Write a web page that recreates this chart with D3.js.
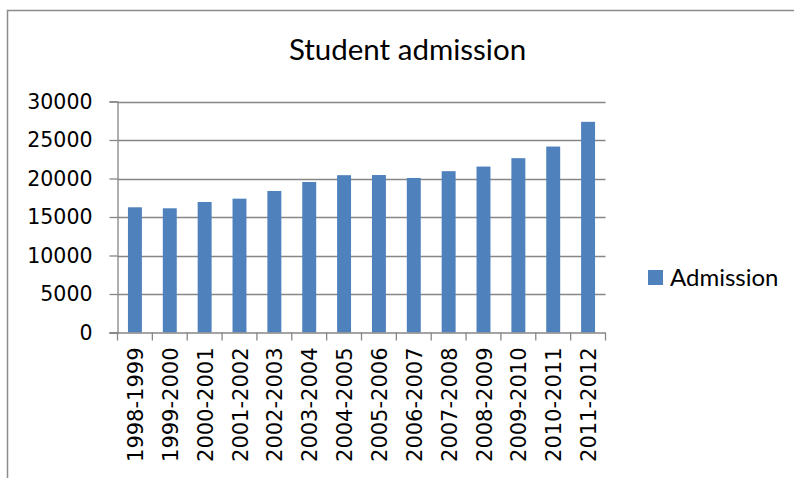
<!DOCTYPE html>
<html>
<head>
<meta charset="utf-8">
<script src="https://cdn.jsdelivr.net/npm/d3@7"></script>
<style>
  html, body { margin: 0; padding: 0; background: #fff; }
  svg { display: block; }
</style>
</head>
<body>
<svg id="chart" width="794" height="478"></svg>
<script>
// Yearly student admissions
const years = ["1998-1999","1999-2000","2000-2001","2001-2002","2002-2003","2003-2004","2004-2005",
               "2005-2006","2006-2007","2007-2008","2008-2009","2009-2010","2010-2011","2011-2012"];
const admission = [16260, 16130, 16950, 17380, 18380, 19550, 20430,
                   20450, 20070, 20950, 21550, 22640, 24150, 27360];
const yTicks = [0, 5000, 10000, 15000, 20000, 25000, 30000];
const seriesName = "Admission";
const chartTitle = "Student admission";

const svg = d3.select("#chart");
const axisFont = "'DejaVu Sans', sans-serif";
const titleFont = "Lato, 'Open Sans', sans-serif";
const barColor = "#4F81BD";
const lineColor = "#868686";

// Outer chart frame (top and left edges)
svg.append("path")
  .attr("d", "M7.5,478 V10.5 H794")
  .attr("fill", "none")
  .attr("stroke", "#8c8c8c")
  .attr("stroke-width", 1.5);

const plot = { left: 117.5, right: 605.5, top: 101.5, bottom: 332.5 };

const x = d3.scaleBand()
  .domain(years)
  .range([plot.left, plot.right])
  .paddingInner(0.6)
  .paddingOuter(0.3);

const xOuter = d3.scaleBand().domain(years).range([plot.left, plot.right]);

const y = d3.scaleLinear()
  .domain([0, 30000])
  .range([plot.bottom, plot.top]);

// Horizontal gridlines
svg.append("g")
  .selectAll("line")
  .data(yTicks.filter(d => d > 0))
  .join("line")
  .attr("x1", plot.left)
  .attr("x2", plot.right)
  .attr("y1", d => Math.round(y(d)) + 0.5)
  .attr("y2", d => Math.round(y(d)) + 0.5)
  .attr("stroke", lineColor)
  .attr("stroke-width", 1.3);

// Bars
svg.append("g")
  .selectAll("rect")
  .data(admission)
  .join("rect")
  .attr("x", (d, i) => x(years[i]))
  .attr("width", x.bandwidth())
  .attr("y", d => y(d))
  .attr("height", d => y(0) - y(d))
  .attr("fill", barColor);

// Y axis
const yAxis = svg.append("g")
  .attr("transform", `translate(${plot.left},0)`)
  .call(d3.axisLeft(y).tickValues(yTicks).tickSize(8).tickPadding(17).tickFormat(d3.format("d")));
yAxis.select(".domain").attr("stroke", lineColor).attr("stroke-width", 1.3);
yAxis.selectAll(".tick line").attr("stroke", lineColor).attr("stroke-width", 1.3);
yAxis.selectAll(".tick text")
  .attr("font-family", axisFont)
  .attr("font-size", 20.5)
  .attr("fill", "#000");

// X axis with ticks at category boundaries
const xAxisG = svg.append("g").attr("transform", `translate(0,${plot.bottom})`);
xAxisG.append("line")
  .attr("x1", plot.left - 8).attr("x2", plot.right)
  .attr("y1", 0.5).attr("y2", 0.5)
  .attr("stroke", lineColor).attr("stroke-width", 1.3);
const boundaries = years.map(d => xOuter(d)).concat([plot.right]);
xAxisG.selectAll("line.tick")
  .data(boundaries)
  .join("line")
  .attr("class", "tick")
  .attr("x1", d => d).attr("x2", d => d)
  .attr("y1", 0).attr("y2", 8)
  .attr("stroke", lineColor).attr("stroke-width", 1.3);
xAxisG.selectAll("text")
  .data(years)
  .join("text")
  .attr("transform", d => `translate(${xOuter(d) + xOuter.bandwidth() / 2 + 8},15) rotate(-90)`)
  .attr("text-anchor", "end")
  .attr("font-family", axisFont)
  .attr("font-size", 21)
  .attr("fill", "#000")
  .text(d => d);

// Title
svg.append("text")
  .attr("x", 407.5)
  .attr("y", 60)
  .attr("text-anchor", "middle")
  .attr("font-family", titleFont)
  .attr("font-size", 29.5)
  .attr("fill", "#000")
  .text(chartTitle);

// Legend
const legend = svg.append("g").attr("transform", "translate(648,270)");
legend.append("rect")
  .attr("width", 15).attr("height", 15)
  .attr("fill", barColor);
legend.append("text")
  .attr("x", 22)
  .attr("y", 15.5)
  .attr("font-family", titleFont)
  .attr("font-size", 24)
  .attr("fill", "#000")
  .text(seriesName);
</script>
</body>
</html>
